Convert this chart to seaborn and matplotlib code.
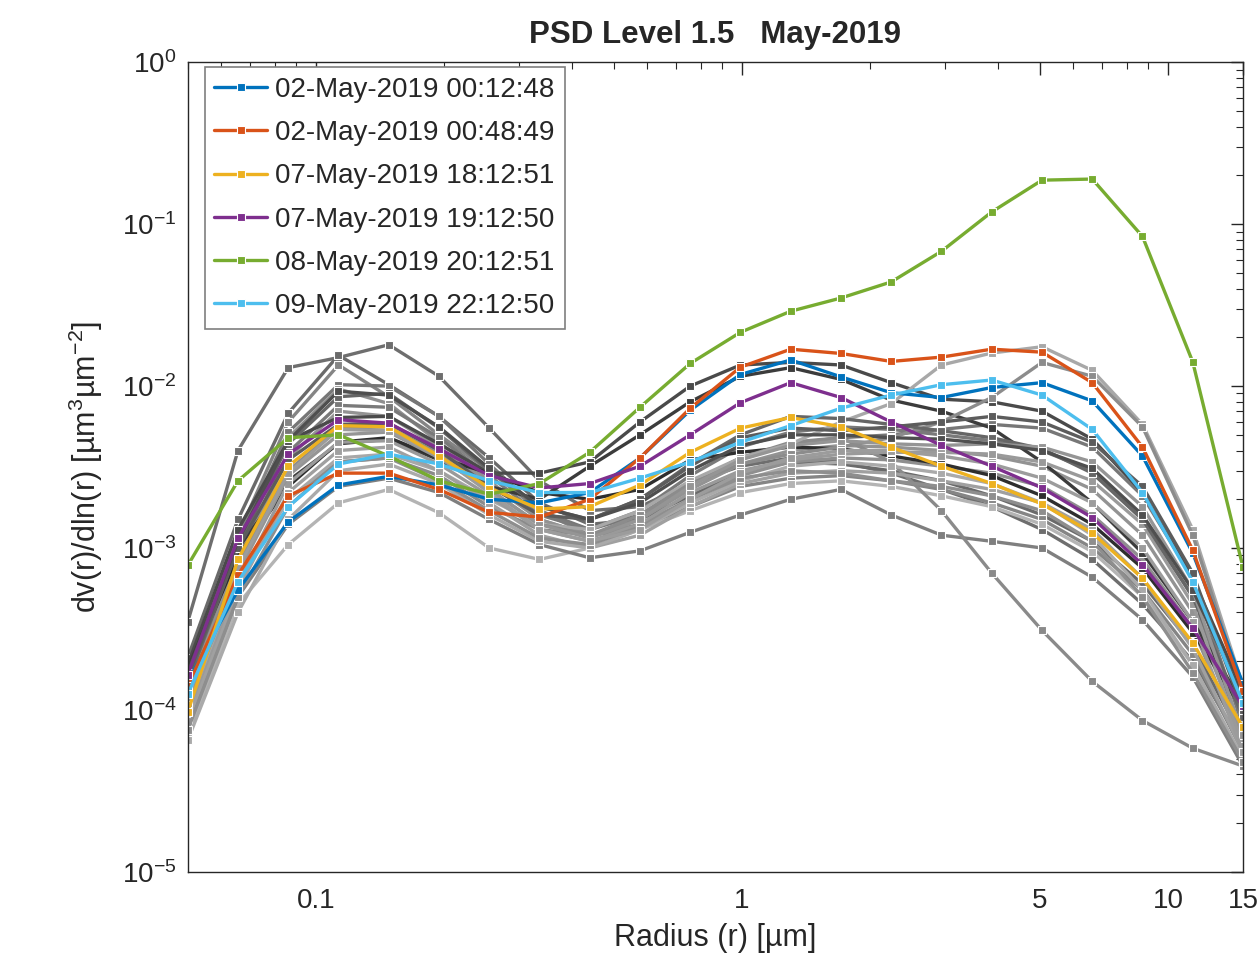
import matplotlib
matplotlib.use("Agg")
import matplotlib.pyplot as plt
import matplotlib.ticker as mticker
import numpy as np
import pandas as pd
import seaborn as sns

# AERONET inversion radius bins (um)
radius = [0.05, 0.065604, 0.086077, 0.112939, 0.148184, 0.194429, 0.255105, 0.334716,
          0.439173, 0.576227, 0.756052, 0.991996, 1.301571, 1.707757, 2.240702, 2.939966,
          3.857452, 5.061260, 6.640745, 8.713145, 11.432287, 15.0]

# background retrievals of the month (drawn in grey)
grey_series = [
    [3.5e-4, 4.0e-3, 1.3e-2, 1.5e-2, 1.8e-2, 1.15e-2, 5.5e-3, 2.6e-3, 1.7e-3, 1.8e-3, 2.5e-3, 3.2e-3, 3.6e-3, 3.4e-3, 2.9e-3, 2.3e-3, 1.8e-3, 1.3e-3, 8.5e-4, 4.5e-4, 2.0e-4, 6.0e-5],
    [2.1e-4, 1.5e-3, 6.8e-3, 1.55e-2, 1.02e-2, 6.5e-3, 3.6e-3, 1.9e-3, 1.4e-3, 1.5e-3, 2.1e-3, 2.9e-3, 3.4e-3, 3.3e-3, 3.0e-3, 2.6e-3, 2.1e-3, 1.6e-3, 1.1e-3, 6.0e-4, 2.5e-4, 6.5e-5],
    [1.8e-4, 1.2e-3, 6.0e-3, 1.35e-2, 8.6e-3, 5.0e-3, 3.0e-3, 1.7e-3, 1.2e-3, 1.3e-3, 1.8e-3, 2.4e-3, 2.7e-3, 2.8e-3, 2.6e-3, 2.3e-3, 1.9e-3, 1.5e-3, 1.0e-3, 5.5e-4, 2.2e-4, 5.5e-5],
    [1.6e-4, 1.1e-3, 5.2e-3, 1.02e-2, 1.0e-2, 6.5e-3, 3.3e-3, 1.7e-3, 1.3e-3, 1.6e-3, 2.5e-3, 3.6e-3, 4.4e-3, 4.8e-3, 5.0e-3, 5.4e-3, 5.8e-3, 5.5e-3, 4.2e-3, 2.1e-3, 6.5e-4, 8.0e-5],
    [1.5e-4, 1.0e-3, 4.8e-3, 9.6e-3, 7.8e-3, 4.5e-3, 2.6e-3, 1.5e-3, 1.2e-3, 1.4e-3, 2.0e-3, 2.8e-3, 3.4e-3, 3.6e-3, 3.5e-3, 3.2e-3, 2.9e-3, 2.4e-3, 1.6e-3, 8.5e-4, 3.2e-4, 6.0e-5],
    [1.4e-4, 9.0e-4, 3.9e-3, 7.6e-3, 7.4e-3, 4.8e-3, 2.8e-3, 1.6e-3, 1.3e-3, 1.7e-3, 2.8e-3, 4.2e-3, 5.2e-3, 5.6e-3, 5.4e-3, 5.0e-3, 4.6e-3, 4.0e-3, 3.0e-3, 1.5e-3, 5.0e-4, 7.0e-5],
    [1.3e-4, 8.5e-4, 3.6e-3, 7.0e-3, 6.5e-3, 4.2e-3, 2.5e-3, 1.5e-3, 1.2e-3, 1.5e-3, 2.3e-3, 3.3e-3, 4.0e-3, 4.3e-3, 4.2e-3, 4.0e-3, 3.7e-3, 3.2e-3, 2.3e-3, 1.2e-3, 4.0e-4, 6.5e-5],
    [1.9e-4, 1.3e-3, 4.6e-3, 6.4e-3, 6.5e-3, 4.4e-3, 2.9e-3, 2.9e-3, 3.4e-3, 6.0e-3, 1.0e-2, 1.35e-2, 1.4e-2, 1.35e-2, 1.05e-2, 8.3e-3, 8.0e-3, 7.0e-3, 4.7e-3, 2.2e-3, 6.5e-4, 1.3e-4],
    [1.8e-4, 1.0e-3, 2.6e-3, 4.4e-3, 4.7e-3, 3.5e-3, 2.4e-3, 2.0e-3, 3.2e-3, 5.0e-3, 8.0e-3, 1.15e-2, 1.3e-2, 1.1e-2, 8.2e-3, 7.0e-3, 5.5e-3, 3.4e-3, 1.9e-3, 9.3e-4, 3.5e-4, 1.1e-4],
    [1.7e-4, 9.0e-4, 2.4e-3, 4.5e-3, 4.8e-3, 3.6e-3, 2.9e-3, 2.2e-3, 2.0e-3, 2.3e-3, 3.5e-3, 3.9e-3, 4.2e-3, 4.1e-3, 3.7e-3, 3.3e-3, 2.8e-3, 2.1e-3, 1.4e-3, 7.5e-4, 3.0e-4, 1.0e-4],
    [7.0e-5, 4.5e-4, 1.05e-3, 1.9e-3, 2.3e-3, 1.65e-3, 1.0e-3, 8.5e-4, 1.0e-3, 1.3e-3, 1.7e-3, 2.2e-3, 2.5e-3, 2.6e-3, 2.4e-3, 2.1e-3, 1.8e-3, 1.4e-3, 9.5e-4, 5.0e-4, 1.9e-4, 5.0e-5],
    [8.0e-5, 5.0e-4, 1.4e-3, 2.4e-3, 2.7e-3, 2.2e-3, 1.5e-3, 1.05e-3, 8.7e-4, 9.6e-4, 1.25e-3, 1.6e-3, 2.0e-3, 2.3e-3, 1.6e-3, 1.2e-3, 1.1e-3, 1.0e-3, 6.6e-4, 3.6e-4, 1.6e-4, 4.5e-5],
    [1.0e-4, 6.5e-4, 2.0e-3, 3.4e-3, 3.6e-3, 2.8e-3, 1.8e-3, 1.3e-3, 1.2e-3, 1.5e-3, 2.5e-3, 3.6e-3, 4.5e-3, 4.8e-3, 3.4e-3, 1.7e-3, 7.0e-4, 3.1e-4, 1.5e-4, 8.6e-5, 5.8e-5, 4.5e-5],
    [1.0e-4, 6.0e-4, 2.0e-3, 3.6e-3, 3.8e-3, 3.0e-3, 2.0e-3, 1.4e-3, 1.3e-3, 1.7e-3, 2.6e-3, 3.6e-3, 4.4e-3, 6.0e-3, 7.8e-3, 1.35e-2, 1.6e-2, 1.75e-2, 1.25e-2, 5.8e-3, 1.3e-3, 1.4e-4],
    [1.2e-4, 8.0e-4, 3.0e-3, 5.5e-3, 5.6e-3, 3.8e-3, 2.3e-3, 1.4e-3, 1.2e-3, 1.6e-3, 2.5e-3, 3.3e-3, 3.8e-3, 4.2e-3, 4.8e-3, 6.0e-3, 8.5e-3, 1.4e-2, 1.15e-2, 5.6e-3, 1.2e-3, 1.3e-4],
    [9.0e-5, 6.0e-4, 2.5e-3, 4.5e-3, 4.6e-3, 3.3e-3, 2.1e-3, 1.3e-3, 1.1e-3, 1.4e-3, 2.2e-3, 3.0e-3, 3.5e-3, 3.8e-3, 3.9e-3, 3.9e-3, 3.8e-3, 3.4e-3, 2.6e-3, 1.4e-3, 4.5e-4, 6.0e-5],
    [8.5e-5, 5.5e-4, 2.2e-3, 4.0e-3, 4.2e-3, 3.0e-3, 1.9e-3, 1.2e-3, 1.0e-3, 1.2e-3, 1.8e-3, 2.5e-3, 2.9e-3, 3.0e-3, 2.9e-3, 2.6e-3, 2.3e-3, 1.9e-3, 1.3e-3, 6.5e-4, 2.4e-4, 5.5e-5],
    [1.5e-4, 1.0e-3, 4.4e-3, 8.6e-3, 9.0e-3, 5.5e-3, 3.0e-3, 1.8e-3, 1.5e-3, 2.0e-3, 3.3e-3, 5.0e-3, 6.5e-3, 6.3e-3, 5.8e-3, 5.3e-3, 4.8e-3, 4.1e-3, 2.9e-3, 1.5e-3, 5.0e-4, 9.0e-5],
    [1.1e-4, 7.0e-4, 2.8e-3, 5.0e-3, 5.2e-3, 3.6e-3, 2.3e-3, 1.4e-3, 1.15e-3, 1.5e-3, 2.4e-3, 3.5e-3, 4.3e-3, 4.6e-3, 4.4e-3, 4.3e-3, 4.4e-3, 4.2e-3, 3.4e-3, 1.8e-3, 5.5e-4, 7.0e-5],
    [1.6e-4, 1.0e-3, 3.5e-3, 5.8e-3, 5.9e-3, 4.0e-3, 2.4e-3, 1.6e-3, 1.5e-3, 2.0e-3, 3.2e-3, 4.8e-3, 5.5e-3, 5.3e-3, 5.6e-3, 6.0e-3, 6.5e-3, 6.0e-3, 4.5e-3, 2.4e-3, 7.0e-4, 1.0e-4],
    [6.5e-5, 4.0e-4, 1.5e-3, 3.0e-3, 3.3e-3, 2.5e-3, 1.6e-3, 1.1e-3, 1.0e-3, 1.3e-3, 1.9e-3, 2.6e-3, 3.2e-3, 3.4e-3, 3.2e-3, 2.9e-3, 2.5e-3, 1.9e-3, 1.2e-3, 5.5e-4, 1.9e-4, 5.0e-5],
    [7.5e-5, 5.0e-4, 1.8e-3, 3.4e-3, 3.6e-3, 2.6e-3, 1.7e-3, 1.15e-3, 1.05e-3, 1.35e-3, 2.0e-3, 2.7e-3, 3.0e-3, 2.9e-3, 2.6e-3, 2.4e-3, 2.1e-3, 1.7e-3, 1.1e-3, 5.0e-4, 1.7e-4, 4.8e-5],
    [1.7e-4, 1.1e-3, 4.6e-3, 9.3e-3, 8.8e-3, 5.6e-3, 3.1e-3, 1.8e-3, 1.5e-3, 1.9e-3, 3.0e-3, 4.3e-3, 5.0e-3, 5.0e-3, 4.8e-3, 4.7e-3, 4.4e-3, 4.0e-3, 3.1e-3, 1.6e-3, 5.5e-4, 1.2e-4],
    [1.2e-4, 7.5e-4, 2.9e-3, 5.4e-3, 5.3e-3, 3.7e-3, 2.2e-3, 1.3e-3, 1.1e-3, 1.3e-3, 2.0e-3, 2.9e-3, 3.6e-3, 4.0e-3, 4.0e-3, 3.7e-3, 3.3e-3, 2.7e-3, 1.9e-3, 1.0e-3, 3.5e-4, 5.5e-5],
]
grey_colors = ["#6e6e6e", "#6a6a6a", "#858585", "#777777", "#8f8f8f", "#7a7a7a", "#939393", "#4a4a4a",
               "#3c3c3c", "#2e2e2e", "#b4b4b4", "#7f7f7f", "#8a8a8a", "#a8a8a8", "#8c8c8c", "#9a9a9a",
               "#a0a0a0", "#666666", "#959595", "#5c5c5c", "#aaaaaa", "#8e8e8e", "#4f4f4f", "#9c9c9c"]

# highlighted retrievals (legend entries)
labels = ["02-May-2019 00:12:48", "02-May-2019 00:48:49", "07-May-2019 18:12:51",
          "07-May-2019 19:12:50", "08-May-2019 20:12:51", "09-May-2019 22:12:50"]
colors = ["#0072BD", "#D95319", "#EDB120", "#7E2F8E", "#77AC30", "#4DBEEE"]
blue = [1.5e-4, 5.5e-4, 1.45e-3, 2.45e-3, 2.77e-3, 2.45e-3, 2.0e-3, 1.9e-3, 2.2e-3, 3.6e-3, 7.1e-3, 1.18e-2, 1.45e-2, 1.14e-2, 9.1e-3, 8.5e-3, 9.8e-3, 1.05e-2, 8.1e-3, 3.7e-3, 9.3e-4, 1.45e-4]
orange = [1.4e-4, 6.8e-4, 2.1e-3, 2.9e-3, 2.9e-3, 2.3e-3, 1.66e-3, 1.55e-3, 2.0e-3, 3.6e-3, 7.3e-3, 1.31e-2, 1.69e-2, 1.59e-2, 1.42e-2, 1.51e-2, 1.69e-2, 1.62e-2, 1.05e-2, 4.2e-3, 9.7e-4, 1.3e-4]
yellow = [9.7e-5, 8.5e-4, 3.2e-3, 5.7e-3, 5.6e-3, 3.7e-3, 2.35e-3, 1.74e-3, 1.8e-3, 2.45e-3, 3.9e-3, 5.5e-3, 6.4e-3, 5.6e-3, 4.2e-3, 3.2e-3, 2.5e-3, 1.87e-3, 1.24e-3, 6.5e-4, 2.6e-4, 7.8e-5]
purple = [1.65e-4, 1.15e-3, 3.8e-3, 6.2e-3, 5.9e-3, 4.1e-3, 2.8e-3, 2.35e-3, 2.5e-3, 3.2e-3, 5.0e-3, 7.9e-3, 1.05e-2, 8.5e-3, 6.0e-3, 4.3e-3, 3.2e-3, 2.35e-3, 1.54e-3, 7.9e-4, 3.2e-4, 1.05e-4]
green = [7.8e-4, 2.6e-3, 4.8e-3, 5.0e-3, 3.7e-3, 2.6e-3, 2.15e-3, 2.5e-3, 3.9e-3, 7.4e-3, 1.38e-2, 2.15e-2, 2.9e-2, 3.5e-2, 4.4e-2, 6.8e-2, 1.19e-1, 1.87e-1, 1.9e-1, 8.4e-2, 1.41e-2, 7.6e-4]
lightblue = [1.25e-4, 6.2e-4, 1.8e-3, 3.3e-3, 3.8e-3, 3.3e-3, 2.6e-3, 2.2e-3, 2.2e-3, 2.7e-3, 3.4e-3, 4.5e-3, 5.7e-3, 7.3e-3, 8.8e-3, 1.02e-2, 1.09e-2, 8.8e-3, 5.4e-3, 2.2e-3, 6.2e-4, 1.1e-4]
highlight_series = [blue, orange, yellow, purple, green, lightblue]


def main():
    sns.set_style("white")
    plt.rcParams["font.family"] = ["Liberation Sans", "DejaVu Sans"]
    plt.rcParams["mathtext.fontset"] = "custom"
    plt.rcParams["mathtext.rm"] = "Liberation Sans"
    plt.rcParams["mathtext.it"] = "Liberation Sans:italic"

    fig = plt.figure(figsize=(12.6, 9.73), dpi=100)
    ax = fig.add_axes([0.149, 0.104, 0.8375, 0.832])

    line_kw = dict(marker="s", markersize=6, linewidth=2.4, markeredgewidth=0.8)

    for vals, col in zip(grey_series, grey_colors):
        sns.lineplot(x=radius, y=vals, color=col, ax=ax, legend=False, **line_kw)

    for vals, col, lab in zip(highlight_series, colors, labels):
        df = pd.DataFrame({"radius": radius, "dv": vals})
        sns.lineplot(data=df, x="radius", y="dv", color=col, label=lab, ax=ax, **line_kw)

    ax.set_xscale("log")
    ax.set_yscale("log")
    ax.set_xlim(0.05, 15)
    ax.set_ylim(1e-5, 1)

    ax.xaxis.set_major_locator(mticker.FixedLocator([0.1, 1, 5, 10, 15]))
    ax.xaxis.set_major_formatter(mticker.FixedFormatter(["0.1", "1", "5", "10", "15"]))
    ax.xaxis.set_minor_locator(mticker.LogLocator(base=10, subs=np.arange(2, 10)))
    ax.xaxis.set_minor_formatter(mticker.NullFormatter())
    ax.yaxis.set_major_locator(mticker.LogLocator(base=10, numticks=10))
    ax.yaxis.set_minor_locator(mticker.LogLocator(base=10, subs=np.arange(2, 10), numticks=12))
    ax.yaxis.set_minor_formatter(mticker.NullFormatter())

    ax.tick_params(which="both", direction="in", top=True, right=True, color="#262626",
                   labelsize=20, labelcolor="#262626")
    ax.tick_params(axis="x", pad=12)
    ax.tick_params(axis="y", pad=8)
    ax.tick_params(which="major", length=9, width=1)
    ax.tick_params(which="minor", length=5, width=0.8)
    for sp in ax.spines.values():
        sp.set_color("#262626")
        sp.set_linewidth(1)
        sp.set_visible(True)

    ax.set_xlabel("Radius (r) [µm]", fontsize=22, color="#262626", labelpad=6)
    ax.set_ylabel("dv(r)/dln(r) [µm$^{3}$µm$^{-2}$]", fontsize=22, color="#262626", labelpad=12)
    ax.set_title("PSD Level 1.5   May-2019", fontsize=22.5, fontweight="bold", pad=14)

    leg = ax.legend(loc="upper left", bbox_to_anchor=(0.016, 0.994), borderaxespad=0,
                    fontsize=20, frameon=True, fancybox=False, edgecolor="#7f7f7f",
                    framealpha=1, handlelength=1.9, handletextpad=0.3,
                    labelspacing=0.62, borderpad=0.35)
    leg.get_frame().set_linewidth(1.2)

    fig.savefig("out.png", dpi=100)


if __name__ == "__main__":
    main()
